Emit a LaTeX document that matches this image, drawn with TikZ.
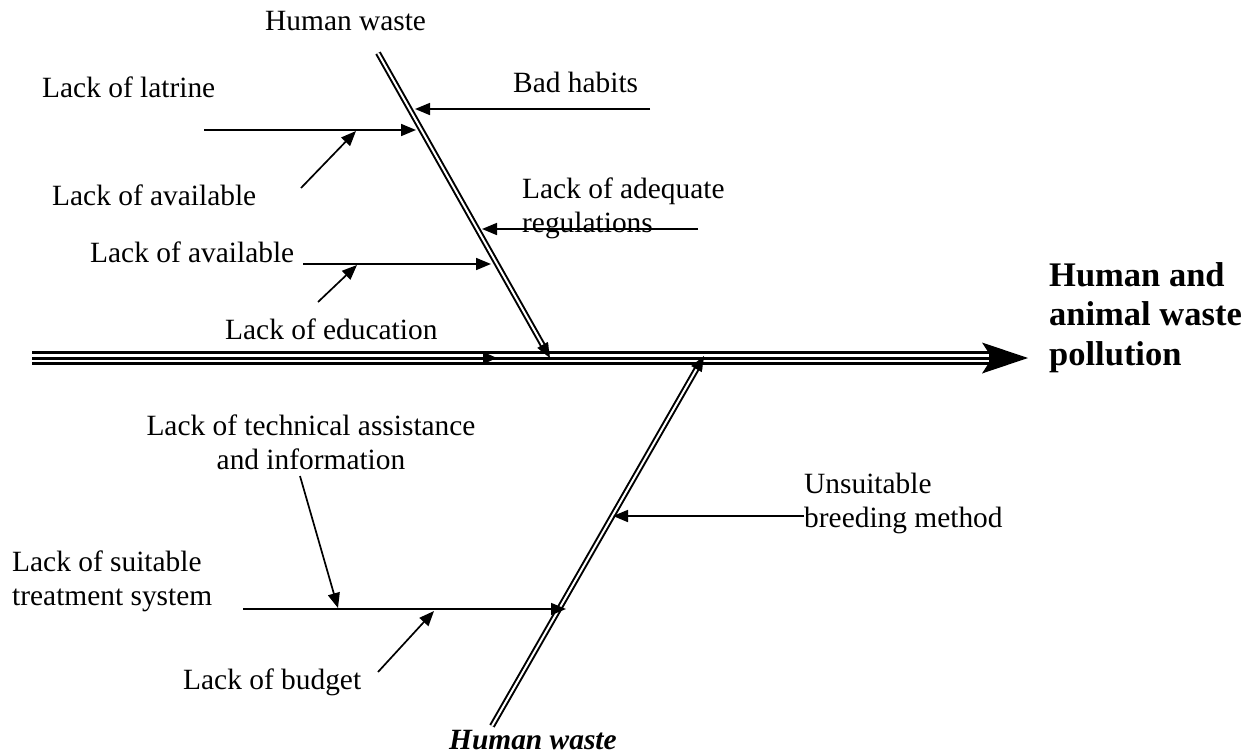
\documentclass[tikz,border=0pt]{standalone}
\usepackage{fontspec}
\setmainfont{Liberation Serif}
\usetikzlibrary{arrows.meta,calc}
\begin{document}
\begin{tikzpicture}[x=1pt,y=-1pt,
  lbl/.style={inner sep=0pt, font=\fontsize{29.4}{34}\selectfont},
  effectlbl/.style={inner sep=0pt, align=left, font=\fontsize{34.5}{39.3}\selectfont\bfseries},
  cause/.style={line width=1.7pt, -{Triangle[length=15pt,width=12pt]}},
  bone/.style={double, double distance=2pt, line width=2pt},
  bonetip/.style={line width=0.1pt, -{Triangle[length=15pt,width=12pt]}},
]
\useasboundingbox (0,0) rectangle (1251,753);

% main spine (triple line with a large head)
\coordinate (spL) at (32,358);
\coordinate (spR) at (1028,358);
\coordinate (spIn) at (989,358);
\draw[line width=14pt, -{Stealth[length=46pt,width=31pt,inset=10pt,line width=0pt]}] (spL) -- (spR);
\draw[white, line width=8.4pt] (spL) -- (spIn);
\draw[line width=3pt] (spL) -- (spIn);

% effect (base anchor = baseline of the last line)
\node[effectlbl, anchor=base west] (effect) at (1049,365) {Human and\\animal waste\\pollution};

% upper bone
\coordinate (ubTop) at (378,53);
\coordinate (ubTip) at (550,358);
\draw[bone] (ubTop) -- ($(ubTip)!12pt!(ubTop)$);
\draw[bonetip] ($(ubTip)!15pt!(ubTop)$) -- (ubTip);

% lower bone
\coordinate (lbBot) at (492,726);
\coordinate (lbTip) at (704,356);
\draw[bone] (lbBot) -- ($(lbTip)!12pt!(lbBot)$);
\draw[bonetip] ($(lbTip)!15pt!(lbBot)$) -- (lbTip);

% labels
\node[lbl, anchor=base west] (hwTop) at (265,30) {Human waste};
\node[lbl, anchor=base west] (latrine) at (42,97) {Lack of latrine};
\node[lbl, anchor=base west] (habits) at (513,92) {Bad habits};
\node[lbl, anchor=base west] (avail1) at (52,205) {Lack of available};
\node[lbl, anchor=base west, align=left] (regs) at (522,232) {Lack of adequate\\regulations};
\node[lbl, anchor=base west] (avail2) at (90,262) {Lack of available};
\node[lbl, anchor=base west] (edu) at (225,339) {Lack of education};
\node[lbl, anchor=base, align=center] (tech) at (311,469) {Lack of technical assistance\\and information};
\node[lbl, anchor=base west, align=left] (breed) at (804,527) {Unsuitable\\breeding method};
\node[lbl, anchor=base west, align=left] (treat) at (12,605) {Lack of suitable\\treatment system};
\node[lbl, anchor=base west] (budget) at (183,689) {Lack of budget};
\node[lbl, anchor=base west, font=\fontsize{29.4}{34}\selectfont\bfseries\itshape] (hwBot) at (449,749) {Human waste};

% cause arrows onto the upper bone
\coordinate (habitsS) at (650,109);   \coordinate (habitsT) at (415,109);
\coordinate (latrineS) at (204,130);  \coordinate (latrineT) at (416,130);
\coordinate (regsS) at (698,229);     \coordinate (regsT) at (482,229);
\coordinate (avail2S) at (303,264);   \coordinate (avail2T) at (491,264);
\draw[cause] (habitsS) -- (habitsT);
\draw[cause] (latrineS) -- (latrineT);
\draw[cause] (regsS) -- (regsT);
\draw[cause] (avail2S) -- (avail2T);

% sub-causes
\coordinate (avail1S) at (301,188);   \coordinate (avail1T) at (356,131);
\coordinate (eduS) at (318,302);      \coordinate (eduT) at (357,265);
\draw[cause] (avail1S) -- (avail1T);
\draw[cause] (eduS) -- (eduT);

% arrow along the spine
\coordinate (spEdu) at (497,358);
\draw[line width=1pt, -{Triangle[length=14pt,width=12pt]}] (spL) -- (spEdu);

% cause arrows onto the lower bone
\coordinate (breedS) at (804,516);    \coordinate (breedT) at (613,516);
\coordinate (treatS) at (243,609);    \coordinate (treatT) at (566,609);
\draw[cause] (breedS) -- (breedT);
\draw[cause] (treatS) -- (treatT);

% sub-causes of the treatment system
\coordinate (techS) at (300,476);     \coordinate (techT) at (338,608);
\coordinate (budgetS) at (378,672);   \coordinate (budgetT) at (434,611);
\draw[cause] (techS) -- (techT);
\draw[cause] (budgetS) -- (budgetT);
\end{tikzpicture}
\end{document}
